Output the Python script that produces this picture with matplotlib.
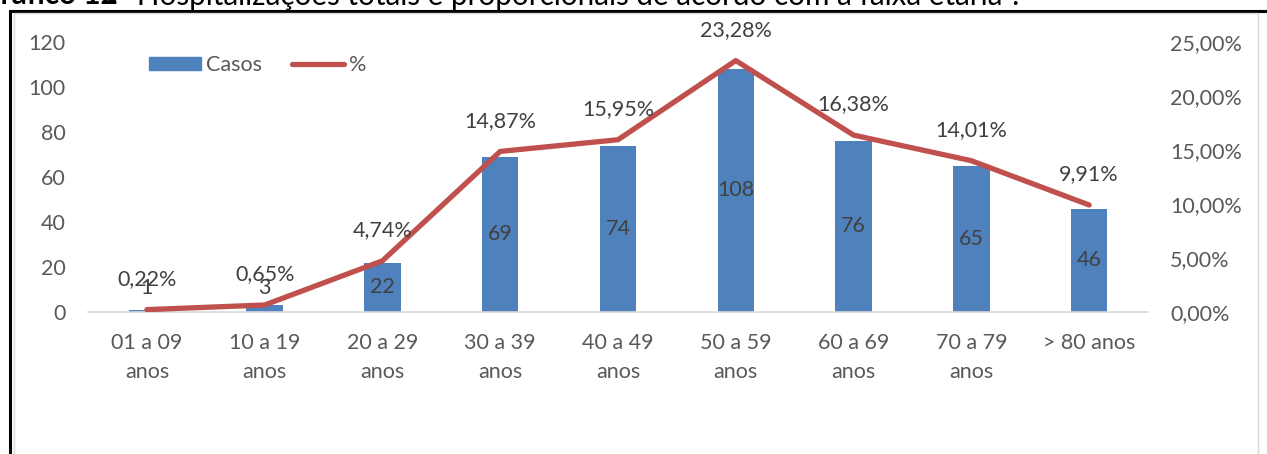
import matplotlib
matplotlib.use("Agg")
import matplotlib.pyplot as plt
from matplotlib.patches import Rectangle, Patch
from matplotlib.lines import Line2D

categories = ["01 a 09\nanos", "10 a 19\nanos", "20 a 29\nanos", "30 a 39\nanos",
              "40 a 49\nanos", "50 a 59\nanos", "60 a 69\nanos", "70 a 79\nanos", "> 80 anos"]
casos = [1, 3, 22, 69, 74, 108, 76, 65, 46]
pct = [0.22, 0.65, 4.74, 14.87, 15.95, 23.28, 16.38, 14.01, 9.91]
left_ticks = [0, 20, 40, 60, 80, 100, 120]
right_ticks = [0, 5, 10, 15, 20, 25]

W, H = 1267, 454
plt.rcParams['font.family'] = ['Lato', 'DejaVu Sans']
FS = 15.5
TICK_C = "#595959"
LAB_C = "#404040"
BAR_C = "#4F81BD"
LINE_C = "#C0504D"

fig = plt.figure(figsize=(W/100, H/100), dpi=100)

def px(x0, y0, x1, y1):
    return [x0/W, 1 - y1/H, (x1-x0)/W, (y1-y0)/H]

# outer frame
fig.patches.append(Rectangle((10/W, -0.1), 1.2, 1 - 10.5/H + 0.1, transform=fig.transFigure,
                             fill=False, edgecolor="black", lw=2.2, zorder=0))
fig.patches.append(Rectangle((13.5/W, -0.1), (1258-13.5)/W, 1 - 13.5/H + 0.1, transform=fig.transFigure,
                             fill=False, edgecolor="#D9D9D9", lw=1.0, zorder=0))

# title (cut at top)
TB = 1 - 4.5/H
fig.text(118/W, TB, "Gráfico 12", fontsize=21.3, fontweight="bold", color="black",
         va="baseline", ha="right")
fig.text(118/W, TB, "- Hospitalizações totais e proporcionais de acordo com a faixa etária¹.",
         fontsize=21.3, color="black", va="baseline", ha="left")

ax = fig.add_axes(px(88, 42, 1148, 312))
x = list(range(len(categories)))
ax.bar(x, casos, width=0.31, color=BAR_C, zorder=2, label="Casos")
ax.set_xlim(-0.5, len(categories) - 0.5)
ax.set_ylim(0, 120)
ax.set_yticks(left_ticks)
ax.set_yticklabels([str(v) for v in left_ticks])
ax.set_xticks(x)
ax.set_xticklabels(categories, linespacing=1.55)
for s in ["top", "right", "left"]:
    ax.spines[s].set_visible(False)
ax.spines["bottom"].set_color("#D9D9D9")
ax.spines["bottom"].set_linewidth(1.2)
ax.tick_params(axis="both", length=0, labelsize=FS, colors=TICK_C)
ax.tick_params(axis="y", pad=16)
ax.tick_params(axis="x", pad=15)

for xi, v in zip(x, casos):
    ax.text(xi, max(v/2, 10.5), str(v), ha="center", va="center", fontsize=FS, color=LAB_C, zorder=4)

ax2 = ax.twinx()
ax2.plot(x, pct, color=LINE_C, lw=3.8, solid_capstyle="round", solid_joinstyle="round", zorder=3)
ax2.set_ylim(0, 25)
ax2.set_yticks(right_ticks)
ax2.set_yticklabels([f"{v:.2f}".replace(".", ",") + "%" for v in right_ticks])
for s in ["top", "right", "left", "bottom"]:
    ax2.spines[s].set_visible(False)
ax2.tick_params(axis="y", length=0, labelsize=FS, colors=TICK_C, pad=16)
for xi, p in zip(x, pct):
    ax2.annotate(f"{p:.2f}".replace(".", ",") + "%", (xi, p), xytext=(0, 22),
                 textcoords="offset points", ha="center", va="center", fontsize=FS, color=LAB_C)

handles = [Patch(color=BAR_C), Line2D([0], [0], color=LINE_C, lw=3.8, solid_capstyle="round")]
fig.legend(handles, ["Casos", "%"], loc="upper left", bbox_to_anchor=(149/W, 1 - 55/H),
           ncol=2, frameon=False, fontsize=FS, handlelength=2.4, handleheight=0.6,
           handletextpad=0.25, columnspacing=1.4, borderpad=0, borderaxespad=0,
           labelcolor=TICK_C)

fig.savefig("out.png", dpi=100)
